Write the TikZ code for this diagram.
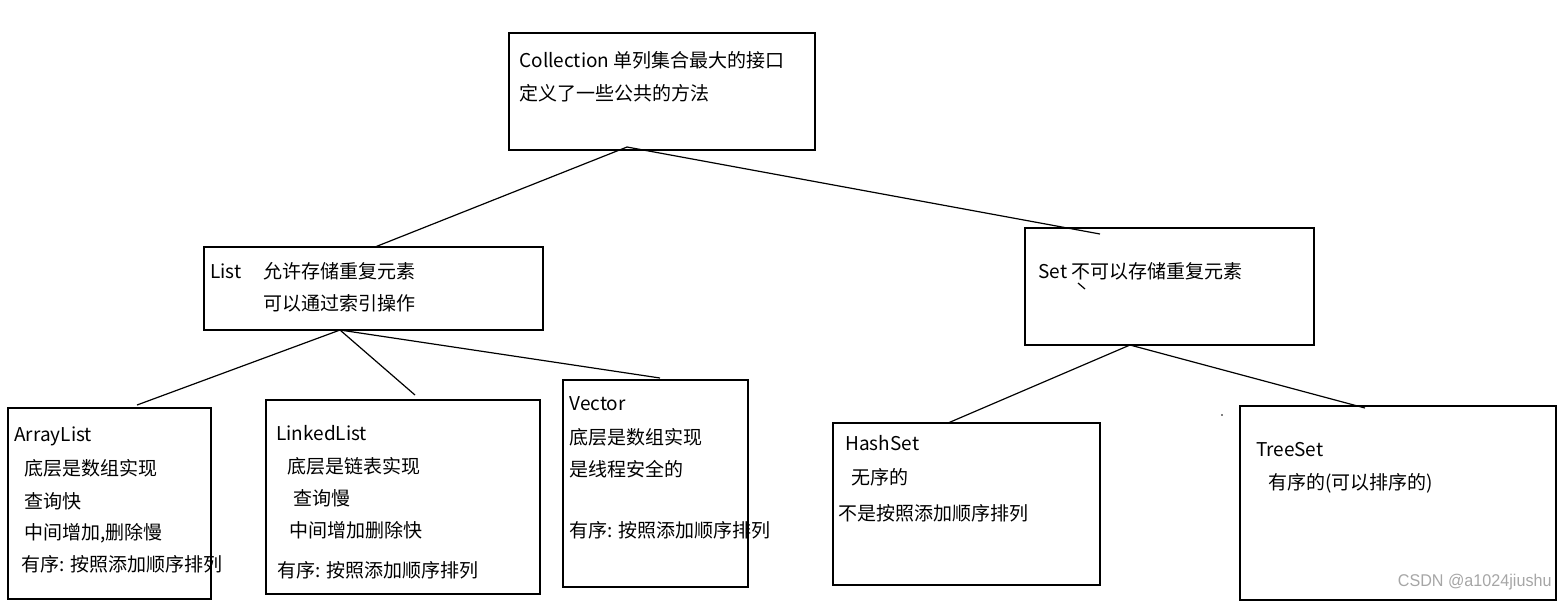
\documentclass[tikz,border=0pt]{standalone}
\usepackage{fontspec}
\setmainfont{Noto Sans CJK SC}
\newfontfamily\wmfont{Liberation Sans}
\usepackage{tikz}

\begin{document}
\begin{tikzpicture}[x=0.5pt,y=-0.5pt]
\useasboundingbox (0,0) rectangle (1557,602);
\begin{scope}[every node/.style={rectangle,draw,line width=0.7pt,inner sep=0pt,outer sep=0pt}]
    \node (coll)   [minimum width=153pt,  minimum height=58.5pt] at (662,91.5)    {};
    \node (list)   [minimum width=169.5pt,minimum height=41.5pt] at (373.5,288.5) {};
    \node (set)    [minimum width=144.5pt,minimum height=58.5pt] at (1169.5,286.5){};
    \node (arr)    [minimum width=101.5pt,minimum height=95.5pt] at (109.5,503.5) {};
    \node (linked) [minimum width=137pt,  minimum height=97pt]   at (403,497)     {};
    \node (vec)    [minimum width=92.5pt, minimum height=103.5pt]at (655.5,483.5) {};
    \node (hash)   [minimum width=133.5pt,minimum height=81pt]   at (966.5,504)   {};
    \node (tree)   [minimum width=158pt,  minimum height=97pt]   at (1398,503)    {};
\end{scope}
\begin{scope}[every node/.style={anchor=west,inner sep=0pt,font=\fontsize{9.5pt}{11pt}\selectfont}]
    \node (coll1) at (519,60)  {Collection 单列集合最大的接口};
    \node (coll2) at (519,93)  {定义了一些公共的方法};
    \node (list0) at (210,271) {List};
    \node (list1) at (263,271) {允许存储重复元素};
    \node (list2) at (263,303) {可以通过索引操作};
    \node (set1)  at (1038,271) {Set 不可以存储重复元素};
    \node (arr0)  at (14,436)  {ArrayList};
    \node (arr1)  at (24,468)  {底层是数组实现};
    \node (arr2)  at (24,501)  {查询快};
    \node (arr3)  at (24,533)  {中间增加,删除慢};
    \node (arr4)  at (21,564)  {有序: 按照添加顺序排列};
    \node (lnk0)  at (276,433) {LinkedList};
    \node (lnk1)  at (287,466) {底层是链表实现};
    \node (lnk2)  at (293,498) {查询慢};
    \node (lnk3)  at (289,530) {中间增加删除快};
    \node (lnk4)  at (277,570) {有序: 按照添加顺序排列};
    \node (vec0)  at (569,404) {Vector};
    \node (vec1)  at (569,437) {底层是数组实现};
    \node (vec2)  at (569,469) {是线程安全的};
    \node (vec3)  at (569,530) {有序: 按照添加顺序排列};
    \node (hash0) at (845,443) {HashSet};
    \node (hash1) at (851,477) {无序的};
    \node (hash2) at (838,513) {不是按照添加顺序排列};
    \node (tree0) at (1256,450) {TreeSet};
    \node (tree1) at (1268,483) {有序的(可以排序的)};
    \node (mark) [anchor=east,font=\fontsize{8.5pt}{10pt}\wmfont] at (1552,582)
        {\scalebox{0.95}[1]{\color{gray!70}CSDN @a1024jiushu}};
\end{scope}
% line ends
\coordinate (coll-out) at (627,147);
\coordinate (list-in)  at (375,247);
\coordinate (set-in)   at (1100,234);
\coordinate (list-out) at (340,330);
\coordinate (arr-in)   at (137,405);
\coordinate (lnk-in)   at (415,395);
\coordinate (vec-in)   at (660,378);
\coordinate (set-out)  at (1130,345);
\coordinate (hash-in)  at (948,423);
\coordinate (tree-in)  at (1365,408);
\begin{scope}[line width=0.6pt]
    \draw (coll-out) -- (list-in);
    \draw (coll-out) -- (set-in);
    \draw (list-out) -- (arr-in);
    \draw (list-out) -- (lnk-in);
    \draw (list-out) -- (vec-in);
    \draw (set-out) -- (hash-in);
    \draw (set-out) -- (tree-in);
    % stray pen marks
    \draw (1078,283) -- (1085,289);
    \fill (1222,415) circle (0.8);
\end{scope}
\end{tikzpicture}
\end{document}
